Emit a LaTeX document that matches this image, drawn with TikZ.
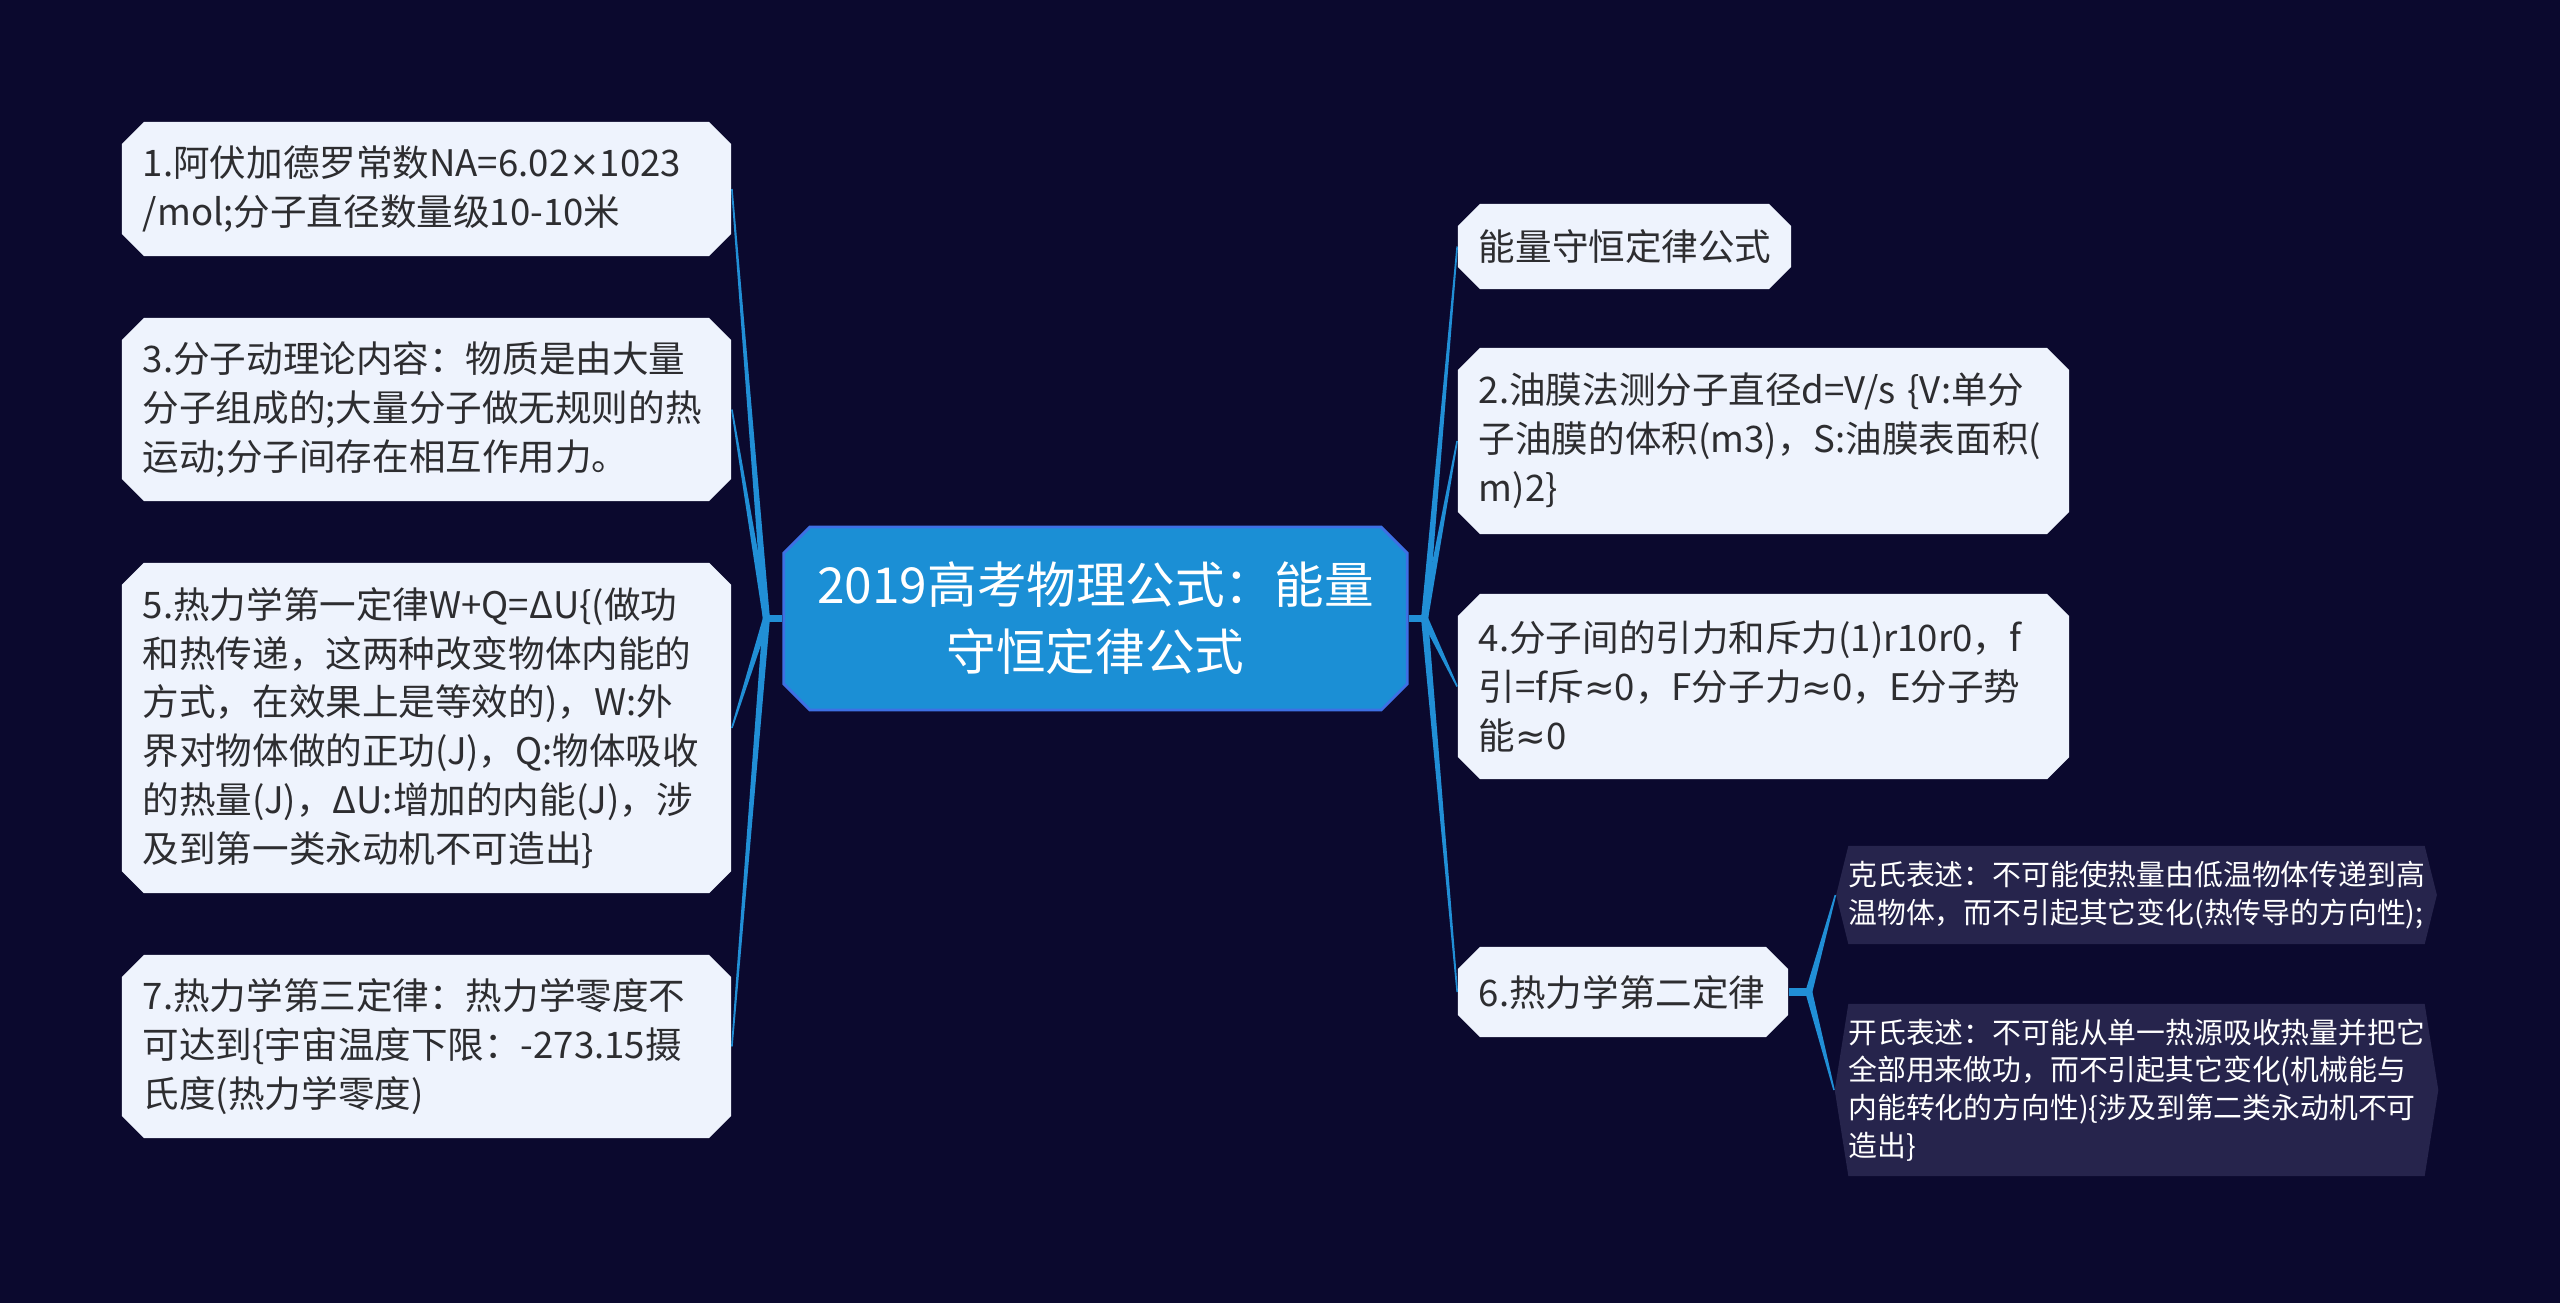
\documentclass[tikz,border=0pt]{standalone}
\usepackage{fontspec}
\setmainfont{Noto Sans CJK SC}
\newfontfamily\symf{DejaVu Sans}
\usepackage{tikz}
\usetikzlibrary{shapes.misc,shapes.symbols,positioning,calc}
\definecolor{bgnavy}{RGB}{11,9,46}
\definecolor{linkblue}{RGB}{33,143,214}
\definecolor{rootblue}{RGB}{27,143,213}
\definecolor{rootedge}{RGB}{62,112,228}
\definecolor{boxfill}{RGB}{238,243,253}
\definecolor{textgrey}{RGB}{45,45,48}
\definecolor{subfill}{RGB}{38,36,76}

\begin{document}
\begin{tikzpicture}[
    x=0.01cm, y=-0.01cm,
    topic/.style={chamfered rectangle, chamfered rectangle xsep=0.11cm,
                  chamfered rectangle ysep=0.11cm, fill=boxfill, text=textgrey,
                  font=\fontsize{10.4pt}{13.9pt}\selectfont, align=left,
                  inner xsep=0.10cm, inner ysep=0pt},
    root/.style={chamfered rectangle, chamfered rectangle xsep=0.13cm,
                 chamfered rectangle ysep=0.13cm, fill=rootblue, draw=rootedge,
                 line width=0.8pt, text=white, align=center,
                 font=\fontsize{14.1pt}{19pt}\selectfont,
                 minimum width=6.23cm, minimum height=1.83cm},
    sub/.style={signal, signal to=west and east, signal pointer angle=152,
                fill=subfill, text=white, align=left, inner xsep=0pt,
                font=\fontsize{8.2pt}{10.7pt}\selectfont, text width=5.76cm},
    link/.style={linkblue},
    stub/.style={linkblue, line width=2pt}
]
    \fill[bgnavy] (0,0) rectangle (2560,1303);
    \useasboundingbox (0,0) rectangle (2560,1303);

    % centre
    \node[root] (root) at (1095.5,618.5) {2019高考物理公式：能量\\守恒定律公式};

    % left side
    \node[topic, minimum height=1.34cm, text width=5.67cm] (L1) at (426.5,189)
        {1.阿伏加德罗常数NA=6.02{\symf ×}1023\\/mol;分子直径数量级10-10米};
    \node[topic, minimum height=1.83cm, text width=5.67cm] (L3) at (426.5,409.5)
        {3.分子动理论内容：物质是由大量\\分子组成的;大量分子做无规则的热\\运动;分子间存在相互作用力。};
    \node[topic, minimum height=3.30cm, text width=5.67cm] (L5) at (426.5,728)
        {5.热力学第一定律W+Q=ΔU\{(做功\\和热传递，这两种改变物体内能的\\方式，在效果上是等效的)，W:外\\界对物体做的正功(J)，Q:物体吸收\\的热量(J)，ΔU:增加的内能(J)，涉\\及到第一类永动机不可造出\}};
    \node[topic, minimum height=1.83cm, text width=5.67cm] (L7) at (426.5,1046.5)
        {7.热力学第三定律：热力学零度不\\可达到\{宇宙温度下限：-273.15摄\\氏度(热力学零度)};

    % right side
    \node[topic, minimum height=0.85cm, text width=2.91cm] (R0) at (1624.5,246.5)
        {能量守恒定律公式};
    \node[topic, minimum height=1.86cm, text width=5.69cm] (R2) at (1763.5,441)
        {2.油膜法测分子直径d=V/s \{V:单分\\子油膜的体积(m3)，S:油膜表面积(\\m)2\}};
    \node[topic, minimum height=1.85cm, text width=5.69cm] (R4) at (1763.5,686.5)
        {4.分子间的引力和斥力(1)r10r0，f\\引=f斥{\symf ≈}0，F分子力{\symf ≈}0，E分子势\\能{\symf ≈}0};
    \node[topic, minimum height=0.90cm, text width=2.88cm] (R6) at (1623,992)
        {6.热力学第二定律};

    % second law statements
    \node[sub, minimum height=0.98cm] (K1) at (2136.5,895)
        {克氏表述：不可能使热量由低温物体传递到高\\温物体，而不引起其它变化(热传导的方向性);};
    \node[sub, minimum height=1.72cm, signal pointer angle=162] (K2) at (2136.5,1090)
        {开氏表述：不可能从单一热源吸收热量并把它\\全部用来做功，而不引起其它变化(机械能与\\内能转化的方向性)\{涉及到第二类永动机不可\\造出\}};

    % connectors (tapered, thick at the hub)
    \coordinate (lhub) at ($(root.west)+(-16,0)$);
    \coordinate (rhub) at ($(root.east)+(16,0)$);
    \coordinate (shub) at ($(R6.east)+(20,0)$);
    \draw[stub] (root.west) -- (lhub);
    \draw[stub] (root.east) -- (rhub);
    \draw[stub] (R6.east) -- (shub);
    \foreach \hub/\n/\side in {lhub/L1/east, lhub/L3/east, lhub/L5/east, lhub/L7/east,
                               rhub/R0/west, rhub/R2/west, rhub/R4/west, rhub/R6/west,
                               shub/K1/west, shub/K2/west}
        \fill[link] ($(\hub)!0.035cm!90:(\n.\side)$) -- ($(\n.\side)!0.008cm!-90:(\hub)$)
            -- ($(\n.\side)!0.008cm!90:(\hub)$) -- ($(\hub)!0.035cm!-90:(\n.\side)$) -- cycle;
\end{tikzpicture}
\end{document}
